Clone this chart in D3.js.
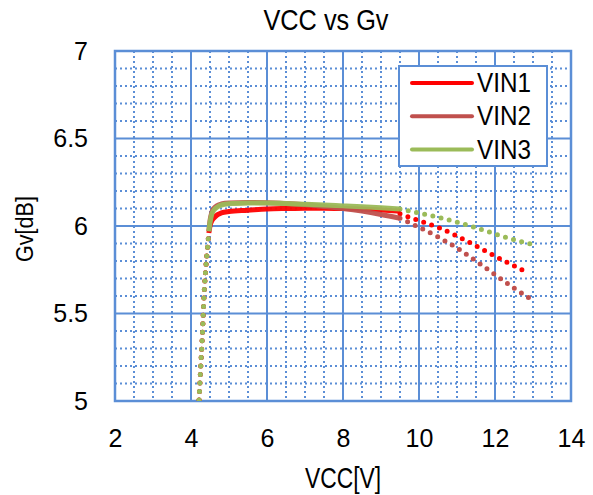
<!DOCTYPE html>
<html>
<head>
<meta charset="utf-8">
<script src="https://cdn.jsdelivr.net/npm/d3@7"></script>
<style>
  body { margin: 0; background: #fff; }
  svg { display: block; font-family: "Liberation Sans", Arial, sans-serif; }
</style>
</head>
<body>
<svg id="chart" width="593" height="495"></svg>
<script>
// series names and colours
const seriesNames = ["VIN1", "VIN2", "VIN3"];
const seriesColors = ["#ff0000", "#c0504d", "#9bbb59"];

// measured part (solid lines)
const vccSolid = [4.47, 4.5, 4.55, 4.6, 4.7, 4.8, 5.0, 5.5, 6, 6.5, 7, 7.5, 8, 8.5, 9, 9.5];
const gvSolid1 = [5.96, 6.0, 6.03, 6.045, 6.065, 6.075, 6.083, 6.09, 6.097, 6.1, 6.102, 6.102, 6.1, 6.097, 6.092, 6.085];
const gvSolid2 = [5.97, 6.03, 6.08, 6.1, 6.118, 6.126, 6.132, 6.134, 6.133, 6.129, 6.122, 6.112, 6.1, 6.085, 6.066, 6.044];
const gvSolid3 = [5.97, 6.02, 6.07, 6.09, 6.11, 6.12, 6.127, 6.131, 6.132, 6.128, 6.124, 6.12, 6.115, 6.11, 6.104, 6.097];

// low side extension (dotted)
const vccLow = [4.18, 4.2, 4.25, 4.3, 4.35, 4.4, 4.47];
const gvLow = [4.86, 4.95, 5.17, 5.38, 5.63, 5.79, 5.96];

// high side extension (dotted)
const vccHigh = [9.5, 10, 10.5, 11, 11.5, 12, 12.5, 13];
const gvHigh1 = [6.07, 6.03, 5.992, 5.943, 5.886, 5.828, 5.773, 5.745];
const gvHigh2 = [6.044, 5.993, 5.937, 5.874, 5.80, 5.722, 5.645, 5.575];
const gvHigh3 = [6.097, 6.074, 6.05, 6.022, 5.99, 5.955, 5.922, 5.894];
const vccHighEnd = [12.75, 13, 13];

// axis ticks
const xTicks = [2, 4, 6, 8, 10, 12, 14];
const yTicks = [5, 5.5, 6, 6.5, 7];

const solidData = [gvSolid1, gvSolid2, gvSolid3];
const highData = [gvHigh1, gvHigh2, gvHigh3];

const svg = d3.select("#chart");
const margin = { left: 115, top: 51, right: 22, bottom: 94 };
const width = 593 - margin.left - margin.right;
const height = 495 - margin.top - margin.bottom;
const gridColor = "#5b8ed6";

const x = d3.scaleLinear().domain([2, 14]).range([0, width]);
const y = d3.scaleLinear().domain([5, 7]).range([height, 0]);

const g = svg.append("g").attr("transform", `translate(${margin.left},${margin.top})`);

// minor grid
const xMinor = d3.range(2, 14.001, 0.5).filter((v) => v % 2 !== 0);
const yMinor = d3.range(5, 7.001, 0.1).filter((v) => Math.abs(v * 2 - Math.round(v * 2)) > 0.01);

g.selectAll(".xminor")
  .data(xMinor)
  .join("line")
  .attr("x1", (d) => x(d))
  .attr("x2", (d) => x(d))
  .attr("y1", 0)
  .attr("y2", height)
  .attr("stroke", gridColor)
  .attr("stroke-width", 2)
  .attr("stroke-dasharray", "2,3");

g.selectAll(".yminor")
  .data(yMinor)
  .join("line")
  .attr("x1", 0)
  .attr("x2", width)
  .attr("y1", (d) => y(d))
  .attr("y2", (d) => y(d))
  .attr("stroke", gridColor)
  .attr("stroke-width", 2)
  .attr("stroke-dasharray", "2,3");

// major grid
g.selectAll(".xmajor")
  .data(xTicks)
  .join("line")
  .attr("x1", (d) => x(d))
  .attr("x2", (d) => x(d))
  .attr("y1", 0)
  .attr("y2", height)
  .attr("stroke", gridColor)
  .attr("stroke-width", 2);

g.selectAll(".ymajor")
  .data(yTicks)
  .join("line")
  .attr("x1", 0)
  .attr("x2", width)
  .attr("y1", (d) => y(d))
  .attr("y2", (d) => y(d))
  .attr("stroke", gridColor)
  .attr("stroke-width", 2);

// plot border
g.append("rect")
  .attr("width", width)
  .attr("height", height)
  .attr("fill", "none")
  .attr("stroke", gridColor)
  .attr("stroke-width", 2.5);

// axes labels (no domain, no tick lines)
const xAxis = g.append("g")
  .attr("transform", `translate(0,${height})`)
  .call(d3.axisBottom(x).tickValues(xTicks).tickSize(0).tickPadding(28).tickFormat(d3.format("d")));
const yAxis = g.append("g")
  .call(d3.axisLeft(y).tickValues(yTicks).tickSize(0).tickPadding(27).tickFormat((d) => String(d)));
[xAxis, yAxis].forEach((a) => {
  a.select(".domain").remove();
  a.selectAll("text").attr("font-size", 25).attr("fill", "#000").attr("font-family", "Liberation Sans, Arial, sans-serif");
});

// clip for lines
svg.append("clipPath").attr("id", "plotclip")
  .append("rect").attr("width", width).attr("height", height);

const lineGen = d3.line().x((d) => x(d[0])).y((d) => y(d[1])).curve(d3.curveMonotoneX);
const lowLine = d3.line().x((d) => x(d[0])).y((d) => y(d[1])).curve(d3.curveCatmullRom);

const lines = g.append("g").attr("clip-path", "url(#plotclip)");

seriesNames.forEach((name, i) => {
  const high = vccHigh.map((v, j) => [Math.min(v, vccHighEnd[i]), highData[i][j]]);
  lines.append("path")
    .attr("d", lineGen(high))
    .attr("fill", "none")
    .attr("stroke", seriesColors[i])
    .attr("stroke-width", 5)
    .attr("stroke-linecap", "round")
    .attr("stroke-dasharray", "0,8.4")
    .attr("stroke-dashoffset", -8.4);
  lines.append("path")
    .attr("d", lowLine(vccLow.map((v, j) => [v, gvLow[j]])))
    .attr("fill", "none")
    .attr("stroke", seriesColors[i])
    .attr("stroke-width", 5)
    .attr("stroke-linecap", "round")
    .attr("stroke-dasharray", "0,8.5");
});

seriesNames.forEach((name, i) => {
  lines.append("path")
    .attr("d", lineGen(vccSolid.map((v, j) => [v, solidData[i][j]])))
    .attr("fill", "none")
    .attr("stroke", seriesColors[i])
    .attr("stroke-width", 5)
    .attr("stroke-linejoin", "round")
    .attr("stroke-linecap", "butt")
    .attr("opacity", 0.95);
});

// legend
const legend = svg.append("g").attr("transform", "translate(399,66)");
legend.append("rect")
  .attr("width", 148)
  .attr("height", 100)
  .attr("fill", "#fff")
  .attr("stroke", gridColor)
  .attr("stroke-width", 2);
seriesNames.forEach((name, i) => {
  const row = legend.append("g").attr("transform", `translate(0,${17 + i * 33.3})`);
  row.append("line")
    .attr("x1", 13).attr("x2", 73)
    .attr("stroke", seriesColors[i])
    .attr("stroke-width", 4)
    .attr("stroke-linecap", "round");
  row.append("text")
    .attr("x", 78)
    .attr("y", 9)
    .attr("font-size", 28)
    .attr("textLength", 54)
    .attr("lengthAdjust", "spacingAndGlyphs")
    .text(name);
});

// titles
svg.append("text")
  .attr("x", 326)
  .attr("y", 30)
  .attr("text-anchor", "middle")
  .attr("font-size", 29)
  .attr("textLength", 125)
  .attr("lengthAdjust", "spacingAndGlyphs")
  .text("VCC vs Gv");

svg.append("text")
  .attr("x", margin.left + width / 2)
  .attr("y", 488)
  .attr("text-anchor", "middle")
  .attr("font-size", 29)
  .attr("textLength", 76)
  .attr("lengthAdjust", "spacingAndGlyphs")
  .text("VCC[V]");

svg.append("text")
  .attr("transform", "translate(33,229) rotate(-90)")
  .attr("text-anchor", "middle")
  .attr("font-size", 23)
  .attr("textLength", 66)
  .attr("lengthAdjust", "spacingAndGlyphs")
  .text("Gv[dB]");
</script>
</body>
</html>
